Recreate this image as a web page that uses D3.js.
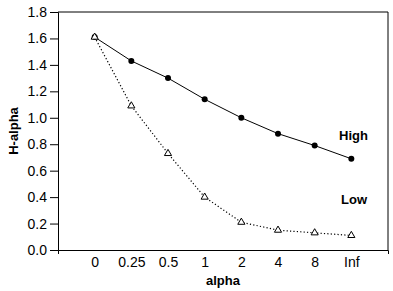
<!DOCTYPE html>
<html>
<head>
<meta charset="utf-8">
<script src="https://cdn.jsdelivr.net/npm/d3@7"></script>
<style>
  body { margin: 0; background: #fff; }
  text { font-family: "Liberation Sans", Arial, sans-serif; fill: #000; }
</style>
</head>
<body>
<svg id="chart"></svg>
<script>
// Data
const alphas = ['0', '0.25', '0.5', '1', '2', '4', '8', 'Inf'];
const highValues = [1.61, 1.43, 1.30, 1.14, 1.00, 0.88, 0.79, 0.69];
const lowValues = [1.61, 1.09, 0.73, 0.40, 0.21, 0.15, 0.13, 0.11];
const yTicks = [0, 0.2, 0.4, 0.6, 0.8, 1.0, 1.2, 1.4, 1.6, 1.8];

const width = 393;
const height = 291;
const margin = { top: 12, right: 5, bottom: 41, left: 58 };

const svg = d3.select('#chart')
  .attr('width', width)
  .attr('height', height);

const x = d3.scalePoint()
  .domain(alphas)
  .range([margin.left, width - margin.right])
  .padding(1);

const y = d3.scaleLinear()
  .domain([0, 1.8])
  .range([height - margin.bottom, margin.top]);

const x0 = margin.left, x1 = width - margin.right;
const y0 = height - margin.bottom, y1 = margin.top;

// frame (top + right)
svg.append('path')
  .attr('d', `M${x0},${y1}H${x1}V${y0}`)
  .attr('fill', 'none')
  .attr('stroke', '#000')
  .attr('stroke-width', 1);

// y axis
const yAxis = svg.append('g')
  .attr('transform', `translate(${x0},0)`)
  .call(d3.axisLeft(y).tickValues(yTicks).tickFormat(d3.format('.1f')).tickSizeOuter(0).tickSize(8).tickPadding(3));
yAxis.selectAll('text').style('font-size', '14px');

// x axis: only the end ticks, labels without ticks
const xAxis = svg.append('g')
  .attr('transform', `translate(0,${y0})`)
  .call(d3.axisBottom(x).tickSize(0).tickSizeOuter(4).tickPadding(7));
xAxis.selectAll('text').style('font-size', '14px');
svg.selectAll('.domain').attr('stroke', '#000');

// lines
const line = d3.line()
  .x((d, i) => x(alphas[i]))
  .y(d => y(d));

svg.append('path')
  .datum(highValues)
  .attr('d', line)
  .attr('fill', 'none')
  .attr('stroke', '#000')
  .attr('stroke-width', 1);

svg.append('path')
  .datum(lowValues)
  .attr('d', line)
  .attr('fill', 'none')
  .attr('stroke', '#000')
  .attr('stroke-width', 1.2)
  .attr('stroke-dasharray', '1.2,2.2');

// High markers: filled circles
svg.selectAll('.high')
  .data(highValues)
  .enter().append('circle')
    .attr('class', 'high')
    .attr('cx', (d, i) => x(alphas[i]))
    .attr('cy', d => y(d))
    .attr('r', 3)
    .attr('fill', '#000');

// Low markers: open triangles
const tri = d3.symbol().type(d3.symbolTriangle).size(22);
svg.selectAll('.low')
  .data(lowValues)
  .enter().append('path')
    .attr('class', 'low')
    .attr('d', tri)
    .attr('transform', (d, i) => `translate(${x(alphas[i])},${y(d)})`)
    .attr('fill', '#fff')
    .attr('stroke', '#000')
    .attr('stroke-width', 1);

// series labels
svg.append('text')
  .attr('x', 339).attr('y', 140)
  .style('font-size', '13px').style('font-weight', 'bold')
  .text('High');
svg.append('text')
  .attr('x', 341).attr('y', 204)
  .style('font-size', '13px').style('font-weight', 'bold')
  .text('Low');

// axis titles
svg.append('text')
  .attr('x', (x0 + x1) / 2).attr('y', 285)
  .attr('text-anchor', 'middle')
  .style('font-size', '13px').style('font-weight', 'bold')
  .text('alpha');
svg.append('text')
  .attr('transform', `translate(18,${(y0 + y1) / 2}) rotate(-90)`)
  .attr('text-anchor', 'middle')
  .style('font-size', '13px').style('font-weight', 'bold')
  .text('H-alpha');
</script>
</body>
</html>
